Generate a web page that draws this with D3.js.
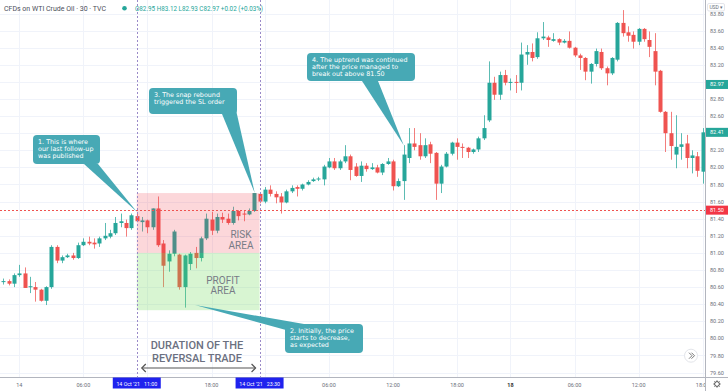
<!DOCTYPE html>
<html>
<head>
<meta charset="utf-8">
<script src="https://cdn.jsdelivr.net/npm/d3@7"></script>
<style>
html, body { margin: 0; padding: 0; background: #fff; }
svg { display: block; font-family: Roboto, "DejaVu Sans", sans-serif; }
</style>
</head>
<body>
<svg id="chart" width="728" height="391"></svg>
<script>
// 30 minute candles, CFDs on WTI crude oil (14 - 18 Oct '21)
const opens = [80.66,80.67,80.64,80.74,80.76,80.60,80.60,80.57,80.44,80.60,81.07,80.91,80.95,80.97,80.94,81.09,81.13,81.12,81.11,81.17,
  81.19,81.23,81.35,81.35,81.29,81.43,81.36,81.38,81.30,81.52,81.11,80.90,80.99,80.98,80.60,80.87,81.00,80.94,81.17,81.39,
  81.26,81.42,81.40,81.35,81.49,81.46,81.45,81.49,81.69,81.60,81.74,81.69,81.66,81.59,81.72,81.77,81.75,81.80,81.84,81.86,
  81.86,82.00,82.07,81.99,82.07,82.13,82.01,81.90,82.02,81.98,82.00,81.94,82.04,82.07,81.78,81.84,82.11,82.28,82.26,82.13,
  82.27,82.17,81.81,82.01,82.16,82.29,82.24,82.23,82.18,82.21,82.34,82.55,82.99,82.85,83.08,82.99,83.00,82.99,83.32,83.35,
  83.29,83.51,83.52,83.48,83.50,83.46,83.48,83.40,83.31,83.28,83.12,83.21,83.35,83.16,83.10,83.26,83.69,83.58,83.55,83.47,
  83.62,83.49,83.36,83.13,82.65,82.40,82.15,82.24,82.28,82.11,82.13,81.95];
const highs = [80.70,80.69,80.76,80.86,80.83,80.72,80.66,80.58,80.61,81.09,81.09,80.97,80.99,81.00,81.12,81.17,81.19,81.17,81.19,81.35,
  81.27,81.42,81.46,81.39,81.46,81.46,81.42,81.39,81.52,81.66,81.15,81.03,81.27,80.99,80.98,81.01,81.07,81.19,81.46,81.48,
  81.46,81.47,81.46,81.54,81.50,81.49,81.52,81.70,81.70,81.77,81.79,81.72,81.70,81.74,81.79,81.79,81.81,81.85,81.88,81.89,
  82.03,82.11,82.11,82.09,82.26,82.15,82.05,82.07,82.05,82.05,82.03,82.05,82.11,82.09,81.87,82.26,82.46,82.46,82.40,82.34,
  82.30,82.18,82.03,82.18,82.30,82.34,82.28,82.24,82.22,82.36,82.61,83.24,83.06,83.12,83.14,83.04,83.08,83.46,83.43,83.45,
  83.58,83.70,83.54,83.57,83.51,83.50,83.59,83.41,83.33,83.29,83.22,83.39,83.39,83.18,83.29,83.70,83.84,83.65,83.59,83.63,
  83.63,83.59,83.57,83.14,82.66,82.65,82.61,82.40,82.38,82.20,82.18,82.46];
const lows = [80.63,80.62,80.60,80.72,80.59,80.53,80.43,80.43,80.39,80.58,80.88,80.88,80.94,80.92,80.93,81.08,81.09,81.05,81.07,81.15,
  81.17,81.21,81.30,81.19,81.27,81.36,81.25,81.23,81.27,81.07,80.60,80.78,80.96,80.57,80.36,80.80,80.82,80.90,81.15,81.21,
  81.23,81.35,81.33,81.33,81.38,81.37,81.44,81.48,81.58,81.58,81.66,81.58,81.46,81.58,81.70,81.66,81.73,81.79,81.83,81.84,
  81.79,81.99,81.97,81.97,82.05,81.85,81.89,81.83,81.95,81.97,81.93,81.91,82.03,81.73,81.77,81.62,82.05,82.20,82.09,82.11,
  82.05,81.62,81.70,82.00,82.14,82.09,82.11,82.11,82.16,82.18,82.32,82.53,82.79,82.79,82.96,82.90,82.87,82.90,83.20,83.24,
  83.27,83.49,83.41,83.47,83.43,83.45,83.39,83.29,83.14,83.02,82.98,83.18,83.14,82.96,83.08,83.24,83.53,83.47,83.39,83.43,
  83.47,83.29,82.96,82.64,82.18,82.09,81.99,82.09,81.99,81.93,81.89,81.81];
const closes = [80.67,80.64,80.74,80.76,80.59,80.61,80.57,80.44,80.60,81.07,80.91,80.95,80.97,80.94,81.09,81.13,81.11,81.10,81.17,81.20,
  81.23,81.35,81.37,81.29,81.44,81.37,81.38,81.30,81.52,81.09,80.85,80.99,81.25,80.60,80.97,80.99,80.94,81.17,81.40,81.26,
  81.42,81.39,81.35,81.49,81.43,81.45,81.49,81.70,81.60,81.74,81.69,81.65,81.59,81.72,81.76,81.75,81.80,81.83,81.86,81.87,
  82.01,82.07,81.99,82.07,82.13,81.97,81.90,82.02,81.98,82.00,81.94,82.04,82.07,81.78,81.84,82.15,82.28,82.24,82.13,82.26,
  82.16,81.81,82.01,82.16,82.29,82.24,82.23,82.18,82.21,82.34,82.46,82.99,82.85,83.08,82.99,83.00,82.99,83.32,83.35,83.28,
  83.51,83.53,83.49,83.50,83.46,83.48,83.40,83.31,83.28,83.12,83.21,83.36,83.16,83.10,83.28,83.69,83.57,83.54,83.47,83.62,
  83.50,83.41,83.12,82.65,82.40,82.25,82.24,82.27,82.11,82.14,81.96,82.41];

// time axis (candle index of each label)
const tickIndex = [3, 15, 39, 61, 73, 85, 95, 107, 119, 131];
const tickText = ["14", "06:00", "18:00", "06:00", "12:00", "18:00", "18", "06:00", "12:00", "18:00"];
const gridIndex = [3, 15, 27, 39, 49, 61, 73, 85, 95, 107, 119, 131];
const priceTicks = [79.6, 79.8, 80.0, 80.2, 80.4, 80.6, 80.8, 81.0, 81.2, 81.4, 81.6, 81.8,
  82.0, 82.2, 82.4, 82.6, 82.8, 83.0, 83.2, 83.4, 83.6, 83.8];

// trade drawing
const entryIndex = 25, exitIndex = 48;
const riskTop = 81.70, entryPrice = 81.00, profitBottom = 80.33;
const breakoutLevel = 81.50;
const priceMarks = [{ v: 82.97, color: "#26a69a" }, { v: 82.41, color: "#26a69a" }, { v: 81.50, color: "#f23645" }];
const timeMarks = [{ i: 25, label: "14 Oct '21   11:00" }, { i: 48, label: "14 Oct '21   23:30" }];

const notes = [
  { lines: ["1. This is where", "our last follow-up", "was published"], box: [33, 135, 67, 29], base: [[84, 164], [98, 164]], tip: [25, 81.48] },
  { lines: ["2. Initially, the price", "starts to decrease,", "as expected"], box: [285, 324, 78, 29], base: [[286, 330], [304, 324]], tip: [35.9, 80.39] },
  { lines: ["3. The snap rebound", "triggered the SL order"], box: [149, 88, 88, 26], base: [[222, 114], [236, 110]], tip: [47.1, 81.70] },
  { lines: ["4. The uptrend was continued", "after the price managed to", "break out above 81.50"], box: [307, 53, 108, 28], base: [[362, 81], [378, 81]], tip: [75, 82.26] }
];

const plotRight = 705, plotBottom = 377.5;
const green = "#26a69a", red = "#ef5350";

const x = d3.scaleLinear().domain([0, opens.length - 1]).range([3.3, 702.7]);
const y = d3.scaleLinear().domain([79.6, 83.8]).range([372.6, 13.5]);

const svg = d3.select("#chart");
svg.append("defs").append("clipPath").attr("id", "plot")
  .append("rect").attr("width", plotRight).attr("height", plotBottom);
svg.select("defs").append("clipPath").attr("id", "timeclip")
  .append("rect").attr("width", plotRight).attr("height", 391);

// grid
const grid = svg.append("g").attr("clip-path", "url(#plot)");
grid.selectAll(".hg").data(priceTicks).join("line")
  .attr("x1", 0).attr("x2", plotRight)
  .attr("y1", d => Math.round(y(d)) + 0.5).attr("y2", d => Math.round(y(d)) + 0.5)
  .attr("stroke", "#f0f3fa");
grid.selectAll(".vg").data(gridIndex).join("line")
  .attr("x1", d => Math.round(x(d)) + 0.5).attr("x2", d => Math.round(x(d)) + 0.5)
  .attr("y1", 0).attr("y2", plotBottom)
  .attr("stroke", "#f0f3fa");

// candles
let candles = d3.range(opens.length).map(i => ({ i, o: opens[i], h: highs[i], l: lows[i], c: closes[i] }));
const cg = svg.append("g").attr("clip-path", "url(#plot)");
cg.selectAll(".wick").data(candles).join("line")
  .attr("x1", d => Math.round(x(d.i)) + 0.5).attr("x2", d => Math.round(x(d.i)) + 0.5)
  .attr("y1", d => y(d.h)).attr("y2", d => y(d.l))
  .attr("stroke", d => d.c >= d.o ? green : red)
  .attr("stroke-opacity", 0.75);
cg.selectAll(".body").data(candles).join("rect")
  .attr("x", d => Math.round(x(d.i)) - 1.5)
  .attr("width", 4)
  .attr("y", d => y(Math.max(d.o, d.c)))
  .attr("height", d => Math.max(1, Math.abs(y(d.o) - y(d.c))))
  .attr("fill", d => d.c >= d.o ? green : red);

// risk / profit boxes
const x0 = x(entryIndex), x1 = x(exitIndex);
svg.append("rect").attr("x", x0).attr("width", x1 - x0)
  .attr("y", y(riskTop)).attr("height", y(entryPrice) - y(riskTop))
  .attr("fill", "#f23645").attr("fill-opacity", 0.2);
svg.append("rect").attr("x", x0).attr("width", x1 - x0)
  .attr("y", y(entryPrice)).attr("height", y(profitBottom) - y(entryPrice))
  .attr("fill", "#62d94c").attr("fill-opacity", 0.25);

// two-line labels as one text element each
function twoLines(cx, yTop, size, lineGap, weight, fill, a, b) {
  const t = svg.append("text").attr("text-anchor", "middle")
    .attr("font-size", size).attr("font-weight", weight).attr("fill", fill);
  t.append("tspan").attr("x", cx).attr("y", yTop).text(a);
  t.append("tspan").attr("x", cx).attr("dy", lineGap).text(b);
}
twoLines(241, 238, 10, 10.5, "normal", "#777b86", "RISK", "AREA");
twoLines(223, 283.5, 10, 10.5, "normal", "#777b86", "PROFIT", "AREA");

// breakout level
svg.append("line").attr("x1", 0).attr("x2", plotRight)
  .attr("y1", Math.round(y(breakoutLevel)) + 0.5).attr("y2", Math.round(y(breakoutLevel)) + 0.5)
  .attr("stroke", "#ef5350").attr("stroke-dasharray", "2,2");

// entry / exit vertical lines
svg.selectAll(".vline").data([entryIndex, exitIndex]).join("line")
  .attr("x1", d => Math.round(x(d)) + 0.5).attr("x2", d => Math.round(x(d)) + 0.5)
  .attr("y1", 0).attr("y2", plotBottom)
  .attr("stroke", "#9a8ac8").attr("stroke-dasharray", "2,2");

// duration label + arrow
twoLines(197, 349, 11, 12.5, 500, "#6b7080", "DURATION OF THE", "REVERSAL TRADE");
const ax0 = x0 + 5, ax1 = x1 - 4, ay = 368;
svg.append("line").attr("x1", ax0).attr("x2", ax1).attr("y1", ay).attr("y2", ay)
  .attr("stroke", "#555").attr("stroke-width", 1.2);
svg.append("path").attr("d", `M${ax0 + 4},${ay - 4} L${ax0},${ay} L${ax0 + 4},${ay + 4} M${ax1 - 4},${ay - 4} L${ax1},${ay} L${ax1 - 4},${ay + 4}`)
  .attr("fill", "none").attr("stroke", "#555").attr("stroke-width", 1.2);

// callouts
const calloutColor = "#47a9b5";
notes.forEach(n => {
  const g = svg.append("g");
  const tx = x(n.tip[0]), ty = y(n.tip[1]);
  g.append("path")
    .attr("d", `M${n.base[0][0]},${n.base[0][1]} L${tx},${ty} L${n.base[1][0]},${n.base[1][1]} Z`)
    .attr("fill", calloutColor);
  g.append("rect").attr("x", n.box[0]).attr("y", n.box[1]).attr("width", n.box[2]).attr("height", n.box[3])
    .attr("rx", 4).attr("fill", calloutColor);
  const t = g.append("text").attr("font-family", "'DejaVu Sans', sans-serif").attr("font-size", 6.4).attr("fill", "#fff");
  n.lines.forEach((line, k) => {
    t.append("tspan").attr("x", n.box[0] + 5).attr("y", n.box[1] + 9 + k * 6.8).text(line);
  });
});

// header
svg.append("text").attr("x", 4).attr("y", 10.5).attr("font-size", 7).attr("fill", "#4a4e59")
  .text("CFDs on WTI Crude Oil · 30 · TVC");
svg.append("circle").attr("cx", 124.5).attr("cy", 8.3).attr("r", 2.3).attr("fill", green);
svg.append("text").attr("x", 135).attr("y", 10.5).attr("font-size", 6.3).attr("fill", green)
  .text("O82.95 H83.12 L82.93 C82.97 +0.02 (+0.03%)");

// axes frame
svg.append("line").attr("x1", plotRight + 0.5).attr("x2", plotRight + 0.5).attr("y1", 0).attr("y2", 391)
  .attr("stroke", "#b2b5be");
svg.append("line").attr("x1", 0).attr("x2", 728).attr("y1", plotBottom).attr("y2", plotBottom)
  .attr("stroke", "#b2b5be");

// price axis (labels hidden under the coloured price marks are skipped)
const shownTicks = priceTicks.filter(p => priceMarks.every(m => Math.abs(y(p) - y(m.v)) > 5));
svg.selectAll(".plab").data(shownTicks).join("text")
  .attr("x", 710).attr("y", d => y(d) + 2)
  .attr("font-size", 5.5).attr("fill", "#6b6f7a")
  .text(d => d.toFixed(2));
priceMarks.forEach(m => {
  svg.append("rect").attr("x", plotRight + 1).attr("y", y(m.v) - 4.5).attr("width", 22).attr("height", 9)
    .attr("fill", m.color);
  svg.append("text").attr("x", 710).attr("y", y(m.v) + 2).attr("font-size", 5.5).attr("fill", "#fff")
    .text(m.v.toFixed(2));
});
svg.append("rect").attr("x", 707.5).attr("y", 3.5).attr("width", 17).attr("height", 7.5).attr("rx", 1.5)
  .attr("fill", "#fff").attr("stroke", "#d1d4dc").attr("stroke-width", 0.6);
svg.append("text").attr("x", 716).attr("y", 9.2).attr("text-anchor", "middle").attr("font-size", 5)
  .attr("fill", "#6b6f7a").text("USD ▾");

// time axis
const tg = svg.append("g").attr("clip-path", "url(#timeclip)");
tg.selectAll(".tlab").data(tickIndex).join("text")
  .attr("x", d => x(d)).attr("y", 386.5).attr("text-anchor", "middle")
  .attr("font-size", 5.5)
  .attr("font-weight", (d, k) => tickText[k] === "18" ? "bold" : "normal")
  .attr("fill", (d, k) => tickText[k] === "18" ? "#333" : "#6b6f7a")
  .text((d, k) => tickText[k]);
timeMarks.forEach(m => {
  svg.append("rect").attr("x", x(m.i) - 24).attr("y", plotBottom).attr("width", 48).attr("height", 11)
    .attr("fill", "#1f22ee");
  svg.append("text").attr("x", x(m.i)).attr("y", 385.5).attr("text-anchor", "middle")
    .attr("font-size", 5.3).attr("fill", "#fff").attr("xml:space", "preserve").text(m.label);
});

// scroll button and settings gear
svg.append("circle").attr("cx", 691).attr("cy", 355.7).attr("r", 6.5)
  .attr("fill", "#fff").attr("stroke", "#e3e5ea");
svg.append("path").attr("d", "M689,352.7 L692,355.7 L689,358.7 M691.5,352.7 L694.5,355.7 L691.5,358.7")
  .attr("fill", "none").attr("stroke", "#555").attr("stroke-width", 0.8);
const gear = svg.append("g").attr("transform", "translate(717,384)");
gear.append("circle").attr("r", 2.4).attr("fill", "none").attr("stroke", "#444").attr("stroke-width", 0.9);
d3.range(8).forEach(k => {
  const a = k * Math.PI / 4;
  gear.append("line").attr("x1", Math.cos(a) * 2.4).attr("y1", Math.sin(a) * 2.4)
    .attr("x2", Math.cos(a) * 3.6).attr("y2", Math.sin(a) * 3.6)
    .attr("stroke", "#444").attr("stroke-width", 0.9);
});
</script>
</body>
</html>
